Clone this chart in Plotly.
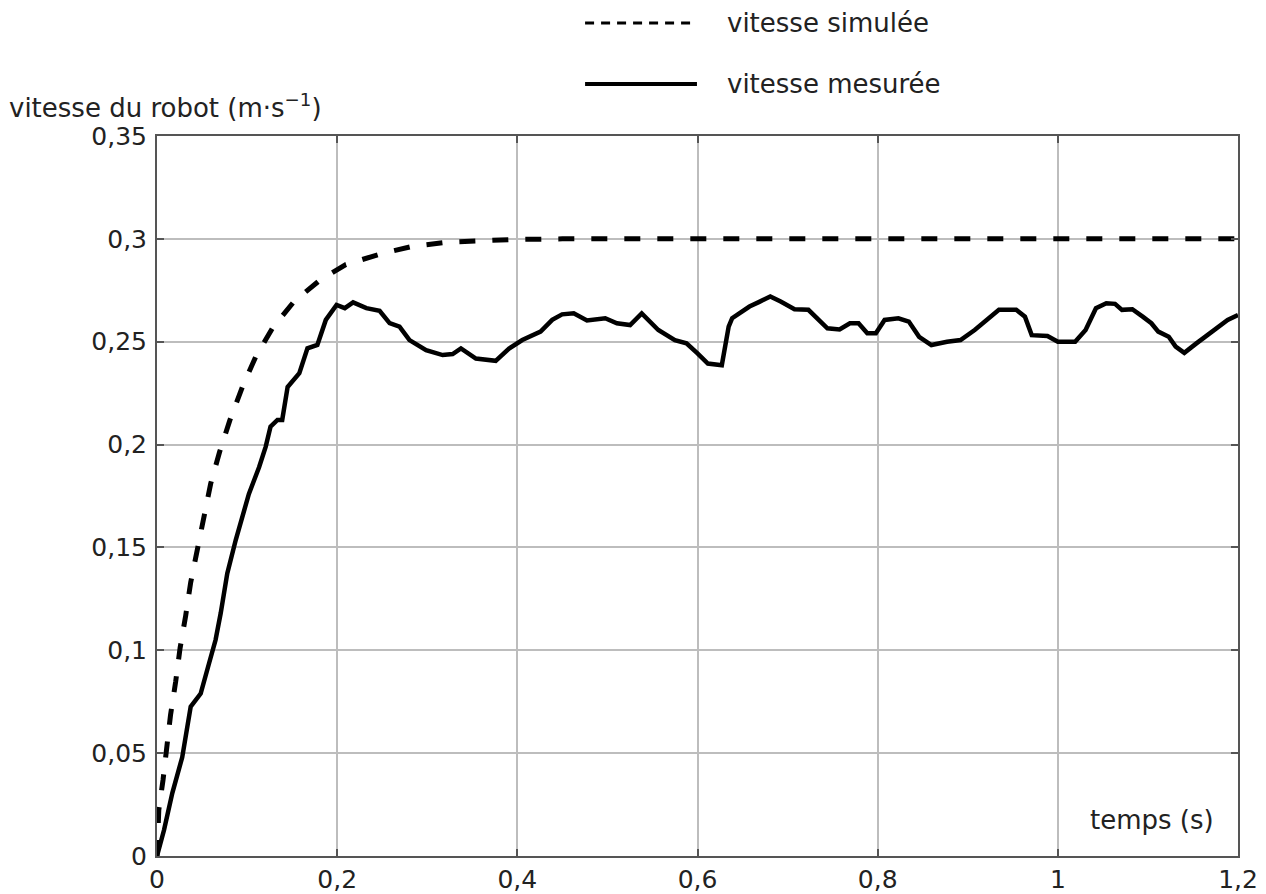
import plotly.graph_objects as go

# ---- data ----
t_sim = [0, 0.002, 0.0067, 0.0104, 0.015, 0.0207, 0.0256, 0.0319, 0.0374, 0.0448, 0.0522,
         0.0596, 0.0696, 0.081, 0.0948, 0.1096, 0.128, 0.152, 0.181, 0.2096, 0.249, 0.284,
         0.3227, 0.3595, 0.3963, 0.45, 0.6, 0.8, 1.0, 1.2]
v_sim = [0, 0.0224, 0.037, 0.0515, 0.0685, 0.0847, 0.101, 0.117, 0.133, 0.149, 0.165,
         0.181, 0.1966, 0.212, 0.228, 0.2427, 0.2565, 0.2695, 0.280, 0.2875, 0.2928, 0.2964,
         0.2984, 0.2992, 0.2997, 0.3, 0.3, 0.3, 0.3, 0.3]

t_mes = [0, 0.0078, 0.017, 0.028, 0.0374, 0.0485, 0.0578, 0.065, 0.0707, 0.078, 0.0874,
         0.102, 0.1133, 0.1207, 0.126, 0.1337, 0.139, 0.145, 0.158, 0.167, 0.178, 0.1874,
         0.1993, 0.2085, 0.2177, 0.2324, 0.2471, 0.2582, 0.2692, 0.2803, 0.2987, 0.3171,
         0.3282, 0.3374, 0.354, 0.376, 0.3908, 0.4055, 0.4258, 0.4387, 0.4497, 0.4626,
         0.4773, 0.4976, 0.5105, 0.5252, 0.5381, 0.5565, 0.5749, 0.5878,
         0.6, 0.6115, 0.627, 0.6346, 0.6385, 0.6577, 0.6692, 0.6808, 0.6923, 0.7077,
         0.7231, 0.7346, 0.7442, 0.7577, 0.7692, 0.7788, 0.7885, 0.798, 0.8077, 0.823,
         0.8346, 0.846, 0.8596, 0.877, 0.892, 0.9077, 0.921, 0.9346, 0.9538, 0.9635,
         0.971, 0.9885, 1.0, 1.0192, 1.0308, 1.0423, 1.0538, 1.0635, 1.0712, 1.0827,
         1.0942, 1.1038, 1.1115, 1.1231, 1.1308, 1.1404, 1.1538, 1.173, 1.1885, 1.2]
v_mes = [0, 0.0126, 0.0306, 0.048, 0.0726, 0.079, 0.0937, 0.105, 0.118, 0.1374, 0.1536,
         0.176, 0.189, 0.199, 0.2087, 0.212, 0.212, 0.228, 0.2347, 0.2468, 0.2484, 0.2606,
         0.2679, 0.2663, 0.2691, 0.2663, 0.265, 0.259, 0.2573, 0.2508, 0.2459, 0.2435,
         0.244, 0.2467, 0.2418, 0.2407, 0.2467, 0.2508, 0.2549, 0.2606, 0.2633, 0.2638,
         0.2603, 0.2614, 0.259, 0.2581, 0.2638, 0.2557, 0.2508, 0.2492,
         0.2443, 0.2394, 0.2386, 0.2573, 0.2614, 0.2671, 0.2695, 0.272, 0.2695, 0.2658,
         0.2655, 0.2606, 0.2565, 0.256, 0.259, 0.259, 0.2541, 0.2541, 0.2606, 0.2614,
         0.2598, 0.2524, 0.2484, 0.25, 0.2508, 0.2557, 0.2606, 0.2655, 0.2655, 0.2622,
         0.2532, 0.2528, 0.25, 0.25, 0.2557, 0.2663, 0.2687, 0.2684, 0.2655, 0.2658,
         0.2622, 0.259, 0.2549, 0.2524, 0.2476, 0.2446, 0.2492, 0.2557, 0.2606, 0.263]

x_ticks = [0, 0.2, 0.4, 0.6, 0.8, 1.0, 1.2]
y_ticks = [0, 0.05, 0.1, 0.15, 0.2, 0.25, 0.3, 0.35]
label_sim = "vitesse simulée"
label_mes = "vitesse mesurée"
y_title = "vitesse du robot (m·s<sup>−1</sup>)"
x_title = "temps (s)"

FONT = "DejaVu Sans"
TXT = "#222222"

fig = go.Figure()
fig.add_trace(go.Scatter(x=t_sim, y=v_sim, mode="lines", name=label_sim,
                         line=dict(color="black", width=5, dash="16px,17px")))
fig.add_trace(go.Scatter(x=t_mes, y=v_mes, mode="lines", name=label_mes,
                         line=dict(color="black", width=4.5)))

axis_common = dict(showgrid=True, gridcolor="#bdbdbd", gridwidth=1.5,
                   showline=True, linecolor="#555555", linewidth=2, mirror="ticks",
                   ticks="inside", ticklen=7, tickcolor="#555555", tickwidth=2,
                   zeroline=False, tickfont=dict(family=FONT, size=25, color=TXT))

fig.update_xaxes(range=[0, 1.2], tickvals=x_ticks, ticklabelstandoff=0, **axis_common)
fig.update_yaxes(range=[0, 0.35], tickvals=y_ticks, ticklabelstandoff=3, **axis_common)

# legend drawn manually (long line samples)
fig.add_shape(type="line", xref="paper", yref="paper", x0=0.396, x1=0.4995, y0=1.1569, y1=1.1569,
              line=dict(color="black", width=3, dash="9px,7px"))
fig.add_shape(type="line", xref="paper", yref="paper", x0=0.396, x1=0.4995, y0=1.0722, y1=1.0722,
              line=dict(color="black", width=4))
fig.add_annotation(text=label_sim, xref="paper", yref="paper", x=0.5254, y=1.1569,
                   xanchor="left", yanchor="middle", showarrow=False,
                   font=dict(family=FONT, size=26, color=TXT))
fig.add_annotation(text=label_mes, xref="paper", yref="paper", x=0.5254, y=1.0722,
                   xanchor="left", yanchor="middle", showarrow=False,
                   font=dict(family=FONT, size=26, color=TXT))

fig.add_annotation(text=y_title, xref="paper", yref="paper", x=-0.1392, y=1.0417,
                   xanchor="left", yanchor="middle", showarrow=False,
                   font=dict(family=FONT, size=26, color=TXT))
fig.add_annotation(text=x_title, xref="paper", yref="paper", x=0.9205, y=0.05,
                   xanchor="center", yanchor="middle", showarrow=False,
                   font=dict(family=FONT, size=26, color=TXT))

fig.update_layout(width=1266, height=894, showlegend=False,
                  margin=dict(l=157, r=28, t=136, b=38, autoexpand=False),
                  paper_bgcolor="white", plot_bgcolor="white",
                  separators=", ",
                  font=dict(family=FONT, size=26, color=TXT))

fig.write_html("out.html", config={"displayModeBar": False},
               post_script="document.body.style.margin='0';document.body.style.overflow='hidden';")
